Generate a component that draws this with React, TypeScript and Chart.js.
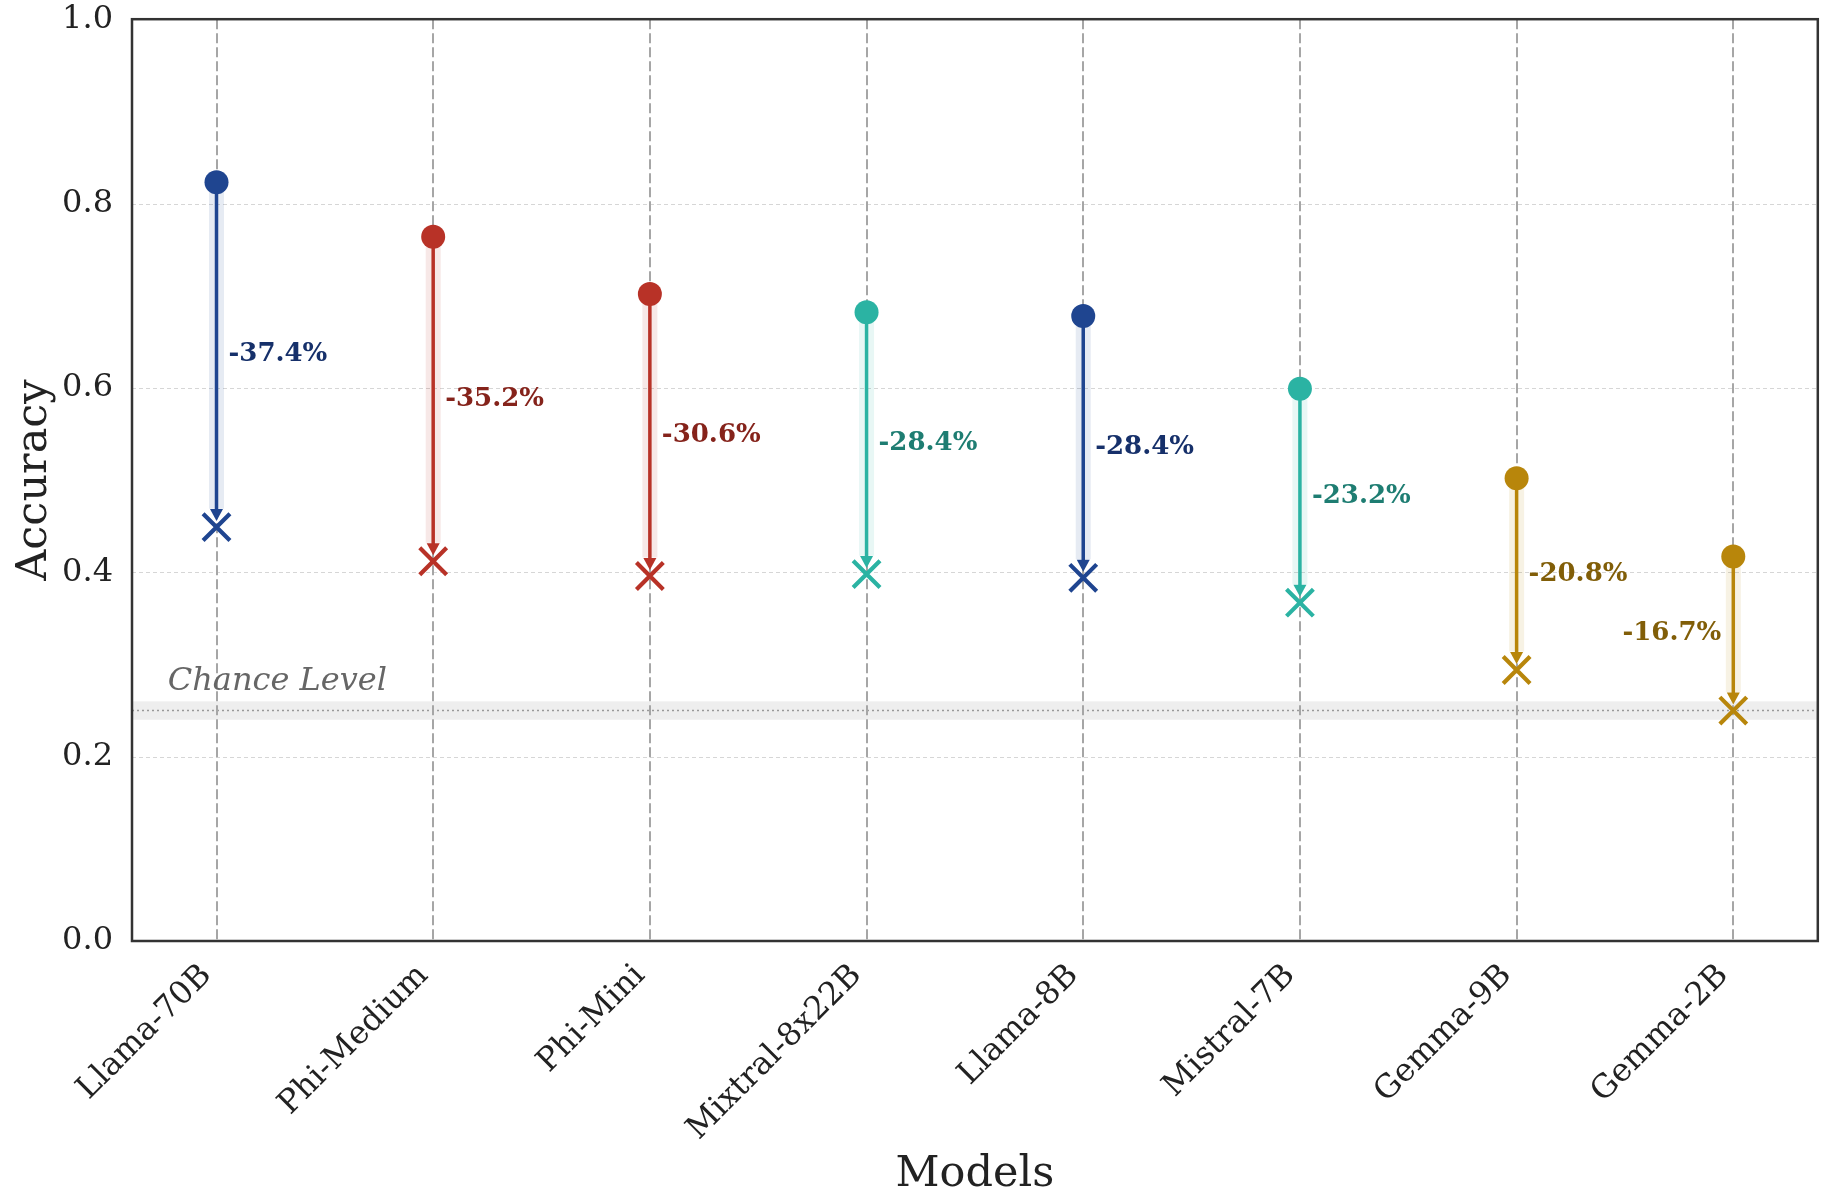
import React, { useEffect, useRef } from 'react';
import { Chart, registerables } from 'chart.js';

Chart.register(...registerables);

const models = ['Llama-70B', 'Phi-Medium', 'Phi-Mini', 'Mixtral-8x22B', 'Llama-8B', 'Mistral-7B', 'Gemma-9B', 'Gemma-2B'];
const originalAcc = [0.823, 0.764, 0.702, 0.682, 0.678, 0.599, 0.502, 0.417];
const perturbedAcc = [0.449, 0.412, 0.396, 0.398, 0.394, 0.367, 0.294, 0.25];
const families = ['llama', 'phi', 'phi', 'mistral', 'llama', 'mistral', 'gemma', 'gemma'];
const yTicks = [0, 0.2, 0.4, 0.6, 0.8, 1.0];
const chanceLevel = 0.25;
const chanceBand = 0.01;

const familyColor: Record<string, string> = {
  llama: '#1f4590',
  phi: '#b83227',
  mistral: '#2bb3a3',
  gemma: '#b8860b',
};
const familyShadow: Record<string, string> = {
  llama: 'rgba(31,69,144,0.11)',
  phi: 'rgba(184,50,39,0.11)',
  mistral: 'rgba(43,179,163,0.11)',
  gemma: 'rgba(184,134,11,0.11)',
};
const familyLabelColor: Record<string, string> = {
  llama: '#16306a',
  phi: '#85231b',
  mistral: '#1e7d72',
  gemma: '#815e08',
};

const FONT = '"DejaVu Serif", serif';
const LABEL_SHIFT = 0.045;
const CANVAS_W = 1841;
const CANVAS_H = 1200;
const CANVAS_SHIFT_Y = -4;

const overlayPlugin = {
  id: 'overlay',
  beforeDatasetsDraw(chart: any) {
    const { ctx, chartArea, scales } = chart;
    const { left, right, top, bottom } = chartArea;
    const x = scales.x;
    const y = scales.y;
    ctx.save();
    ctx.strokeStyle = '#d6d6d6';
    ctx.lineWidth = 1;
    ctx.setLineDash([4, 3]);
    yTicks.forEach((v) => {
      if (v <= 0 || v >= 1) return;
      const py = Math.round(y.getPixelForValue(v)) + 0.5;
      ctx.beginPath();
      ctx.moveTo(left, py);
      ctx.lineTo(right, py);
      ctx.stroke();
    });
    ctx.setLineDash([]);
    ctx.fillStyle = 'rgba(0,0,0,0.065)';
    const yb1 = y.getPixelForValue(chanceLevel + chanceBand);
    const yb2 = y.getPixelForValue(chanceLevel - chanceBand);
    ctx.fillRect(left, yb1, right - left, yb2 - yb1);
    ctx.strokeStyle = '#999999';
    ctx.lineWidth = 1.6;
    ctx.setLineDash([2, 3]);
    const yc = y.getPixelForValue(chanceLevel);
    ctx.beginPath();
    ctx.moveTo(left, yc);
    ctx.lineTo(right, yc);
    ctx.stroke();
    ctx.strokeStyle = '#a6a6a6';
    ctx.lineWidth = 2;
    ctx.setLineDash([10, 4]);
    models.forEach((_, i) => {
      const px = Math.round(x.getPixelForValue(i));
      ctx.beginPath();
      ctx.moveTo(px, top);
      ctx.lineTo(px, bottom);
      ctx.stroke();
    });
    ctx.setLineDash([]);
    ctx.font = `italic 32px ${FONT}`;
    ctx.fillStyle = '#666666';
    ctx.textAlign = 'left';
    ctx.textBaseline = 'alphabetic';
    ctx.fillText('Chance Level', x.getPixelForValue(-0.225), y.getPixelForValue(0.272));
    ctx.restore();
  },
  afterDatasetsDraw(chart: any) {
    const { ctx, chartArea, scales } = chart;
    const { left, right, top, bottom } = chartArea;
    const x = scales.x;
    const y = scales.y;
    ctx.save();
    models.forEach((_, i) => {
      const fam = families[i];
      const px = x.getPixelForValue(i);
      const pe = y.getPixelForValue(perturbedAcc[i]);
      const tip = pe - 6;
      ctx.fillStyle = familyColor[fam];
      ctx.beginPath();
      ctx.moveTo(px, tip);
      ctx.lineTo(px - 6.5, tip - 12);
      ctx.lineTo(px + 6.5, tip - 12);
      ctx.closePath();
      ctx.fill();
      const diff = (perturbedAcc[i] - originalAcc[i]) * 100;
      const txt = `${diff.toFixed(1)}%`;
      const pm = y.getPixelForValue((originalAcc[i] + perturbedAcc[i]) / 2);
      ctx.font = `bold 26px ${FONT}`;
      ctx.fillStyle = familyLabelColor[fam];
      ctx.textBaseline = 'middle';
      if (i === models.length - 1) {
        ctx.textAlign = 'right';
        ctx.fillText(txt, px - 12, pm);
      } else {
        ctx.textAlign = 'left';
        ctx.fillText(txt, px + 12, pm);
      }
    });
    ctx.strokeStyle = '#333333';
    ctx.lineWidth = 2.5;
    ctx.strokeRect(left, top, right - left, bottom - top);
    ctx.restore();
  },
};

export default function App() {
  const ref = useRef<HTMLCanvasElement | null>(null);

  useEffect(() => {
    if (!ref.current) return;
    const colors = families.map((f) => familyColor[f]);

    const shadowSets = models.map((m, i) => ({
      type: 'scatter' as const,
      label: `${m} shadow`,
      data: [
        { x: i, y: originalAcc[i] },
        { x: i, y: perturbedAcc[i] + 0.02 },
      ],
      showLine: true,
      borderColor: familyShadow[families[i]],
      borderWidth: 15,
      pointRadius: 0,
      order: 4,
    }));
    const shaftSets = models.map((m, i) => ({
      type: 'scatter' as const,
      label: `${m} drop`,
      data: [
        { x: i, y: originalAcc[i] },
        { x: i, y: perturbedAcc[i] + 0.015 },
      ],
      showLine: true,
      borderColor: familyColor[families[i]],
      borderWidth: 3.5,
      pointRadius: 0,
      order: 3,
    }));

    const chart = new Chart(ref.current, {
      type: 'scatter',
      data: {
        datasets: [
          {
            label: 'Original',
            data: models.map((_, i) => ({ x: i, y: originalAcc[i] })),
            pointStyle: 'circle',
            pointRadius: 12,
            pointBackgroundColor: colors,
            pointBorderColor: colors,
            pointBorderWidth: 0,
            order: 1,
          },
          {
            label: 'Perturbed',
            data: models.map((_, i) => ({ x: i, y: perturbedAcc[i] })),
            pointStyle: 'crossRot',
            pointRadius: 19,
            pointBorderColor: colors,
            pointBackgroundColor: colors,
            pointBorderWidth: 4.2,
            order: 2,
          },
          ...shaftSets,
          ...shadowSets,
        ] as any,
      },
      options: {
        animation: false,
        responsive: false,
        devicePixelRatio: 1,
        layout: { padding: { top: 13, right: 15, left: 0, bottom: 0 } },
        plugins: {
          legend: { display: false },
          tooltip: { enabled: false },
        },
        scales: {
          x: {
            type: 'linear',
            min: -0.39,
            max: 7.39,
            afterBuildTicks: (s: any) => {
              s.ticks = models.map((_, i) => ({ value: i - LABEL_SHIFT }));
            },
            afterFit: (s: any) => {
              s.height = 255;
              s.paddingLeft = 0;
              s.paddingRight = 0;
            },
            ticks: {
              autoSkip: false,
              maxRotation: 45,
              minRotation: 45,
              padding: 16,
              color: '#222222',
              font: { family: FONT, size: 32 },
              callback: (v: any) => models[Math.round(Number(v))] ?? '',
            },
            grid: { display: false, drawTicks: false },
            border: { display: false },
            title: {
              display: true,
              text: 'Models',
              color: '#222222',
              font: { family: FONT, size: 43 },
              padding: { top: 0, bottom: -5 },
            },
          },
          y: {
            type: 'linear',
            min: 0,
            max: 1,
            afterBuildTicks: (s: any) => {
              s.ticks = yTicks.map((v) => ({ value: v }));
            },
            afterFit: (s: any) => {
              s.width = 132;
              s.paddingTop = 0;
              s.paddingBottom = 0;
            },
            ticks: {
              padding: 19,
              color: '#222222',
              font: { family: FONT, size: 32 },
              callback: (v: any) => Number(v).toFixed(1),
            },
            grid: { display: false, drawTicks: false },
            border: { display: false },
            title: {
              display: true,
              text: 'Accuracy',
              color: '#222222',
              font: { family: FONT, size: 43 },
              padding: { top: 9, bottom: 0 },
            },
          },
        },
      } as any,
      plugins: [overlayPlugin],
    });
    return () => chart.destroy();
  }, []);

  return (
    <div style={{ position: 'absolute', left: 0, top: 0, width: 1832, height: 1196, overflow: 'hidden', background: '#ffffff' }}>
      <canvas
        ref={ref}
        width={CANVAS_W}
        height={CANVAS_H}
        style={{ display: 'block', width: CANVAS_W, height: CANVAS_H, marginTop: CANVAS_SHIFT_Y }}
      />
    </div>
  );
}
